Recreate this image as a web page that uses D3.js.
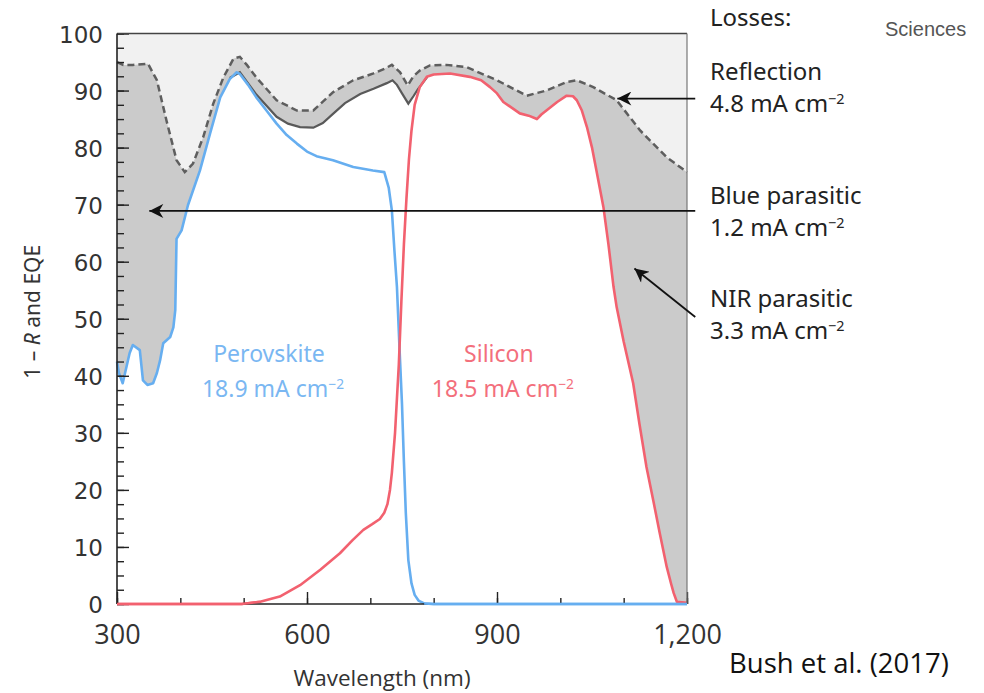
<!DOCTYPE html>
<html>
<head>
<meta charset="utf-8">
<script src="https://cdn.jsdelivr.net/npm/d3@7"></script>
<style>
    body { margin: 0; background: #fff; }
    svg { display: block; }
</style>
</head>
<body>
<svg id="eqe-viz"></svg>
<script>
// 1 - R (dashed) : wavelength (nm) / percent
var reflWavelength = [300, 310, 325, 349, 363, 378, 394, 407, 420, 436, 452, 468, 484, 494, 505, 520, 552, 584, 610, 641, 673, 705, 722, 734, 747, 759, 768, 778, 794, 820, 852, 900, 947, 978, 1010, 1026, 1052, 1089, 1126, 1168, 1200]
var reflValue      = [95, 94.5, 94.5, 94.7, 91.8, 84.8, 77.8, 75.7, 77.2, 81.8, 87.7, 92.3, 95.6, 95.9, 94.5, 92.3, 88.3, 86.5, 86.5, 89.7, 91.8, 93, 93.8, 94.5, 93.2, 90.9, 92.5, 93.5, 94.4, 94.5, 94.1, 91.8, 89.1, 90, 91.5, 91.8, 90.6, 88.3, 83, 78.3, 75.7]

// perovskite EQE
var perovWavelength = [300, 303, 309, 315, 320, 325, 336, 341, 348, 357, 363, 368, 373, 384, 389, 392, 394, 402, 412, 431, 447, 463, 478, 489, 494, 507, 520, 536, 552, 568, 584, 600, 615, 641, 673, 704, 722, 729, 734, 738, 742, 746, 750, 753, 756, 760, 765, 770, 776, 785, 800, 1200]
var perovEqe        = [42.5, 40.5, 38.7, 41.6, 44, 45.4, 44.5, 39.2, 38.4, 38.7, 40.5, 42.7, 45.7, 46.8, 48.5, 51.5, 64, 65.5, 69.9, 76, 82.5, 88.8, 92, 93.2, 92.9, 91, 88.8, 86.5, 84.2, 82.2, 80.7, 79.3, 78.5, 77.8, 76.6, 76, 75.7, 73, 69, 62, 55.6, 45, 35, 25, 16, 7.7, 3.6, 1.6, 0.6, 0.1, 0, 0]

// silicon EQE
var siWavelength = [300, 497, 526, 557, 589, 621, 652, 672, 689, 703, 715, 722, 727, 731, 734, 739, 745, 749, 753, 757, 761, 765, 770, 778, 789, 800, 826, 857, 875, 889, 900, 910, 936, 950, 963, 970, 978, 995, 1010, 1020, 1026, 1034, 1042, 1050, 1057, 1068, 1076, 1084, 1089, 1100, 1115, 1125, 1136, 1147, 1157, 1168, 1175, 1179, 1184, 1200]
var siEqe        = [0, 0, 0.4, 1.3, 3.3, 6, 8.9, 11.2, 13, 14, 14.9, 16, 17.5, 20, 23, 30, 42, 53, 63, 71, 78, 83, 87.5, 90.6, 92.4, 92.8, 93, 92.4, 91.8, 90.6, 89.5, 88, 86, 85.6, 85, 85.8, 86.5, 88, 89.1, 89, 88.3, 86.5, 83.6, 80, 76, 69.6, 63, 55.6, 52, 46, 38.7, 31.5, 24, 18, 12.4, 6.5, 3.5, 1.9, 0.4, 0.2]

// summed EQE (solid grey), only where both cells contribute
var totalWavelength = [478, 494, 520, 552, 570, 589, 610, 625, 641, 660, 684, 705, 726, 735, 742, 750, 760, 768, 775, 790]
var totalEqe        = [92.2, 93.2, 89.3, 85.4, 84.2, 83.6, 83.5, 84.3, 85.9, 87.8, 89.4, 90.3, 91.3, 91.8, 91, 89.5, 87.7, 89, 90.2, 92.4]

var xTickLabels = [300, 600, 900, 1200]
var yTickLabels = [0, 10, 20, 30, 40, 50, 60, 70, 80, 90, 100]

var lossNames  = ["Reflection", "Blue parasitic", "NIR parasitic"]
var lossValues = ["4.8", "1.2", "3.3"]

var zip = (xs, ys) => xs.map((x, i) => ({wl: x, v: ys[i]}))
var reflData = zip(reflWavelength, reflValue)
var perovData = zip(perovWavelength, perovEqe)
var siData = zip(siWavelength, siEqe)
var totalData = zip(totalWavelength, totalEqe)

var dimensions = {
    width: 984,
    height: 693,
    margin: { top: 33.5, bottom: 89, left: 117, right: 297 }
}
var plotBottom = dimensions.height - dimensions.margin.bottom
var plotRight = dimensions.width - dimensions.margin.right

var svg = d3.select("#eqe-viz")
            .attr("width", dimensions.width)
            .attr("height", dimensions.height)

var xScale = d3.scaleLinear()
               .domain([300, 1200])
               .range([dimensions.margin.left, plotRight])
var yScale = d3.scaleLinear()
               .domain([0, 100])
               .range([plotBottom, dimensions.margin.top])

var areaGen = d3.area()
                .x(d => xScale(d.wl))
                .y0(yScale(0))
                .y1(d => yScale(d.v))
var lineGen = d3.line()
                .x(d => xScale(d.wl))
                .y(d => yScale(d.v))

var blue = "#66aef0"
var red = "#f2616f"

// reflection region (above 1-R)
svg.append("rect")
   .attr("x", xScale(300))
   .attr("y", yScale(100))
   .attr("width", xScale(1200) - xScale(300))
   .attr("height", yScale(0) - yScale(100))
   .attr("fill", "#f1f1f1")

// parasitic region (below 1-R)
svg.append("path").datum(reflData).attr("d", areaGen).attr("fill", "#cbcbcb")

// collected region (white under EQE curves)
svg.append("path").datum(perovData).attr("d", areaGen).attr("fill", "#fff")
svg.append("path").datum(siData).attr("d", areaGen).attr("fill", "#fff")
svg.append("path").datum(totalData).attr("d", areaGen).attr("fill", "#fff")

svg.append("path").datum(reflData).attr("d", lineGen)
   .attr("fill", "none").attr("stroke", "#5e5e5e")
   .attr("stroke-width", 2.5).attr("stroke-dasharray", "7,4")
svg.append("path").datum(totalData).attr("d", lineGen)
   .attr("fill", "none").attr("stroke", "#595959").attr("stroke-width", 2.2)
svg.append("path").datum(perovData).attr("d", lineGen)
   .attr("fill", "none").attr("stroke", blue).attr("stroke-width", 2.6)
   .attr("stroke-linejoin", "round")
svg.append("path").datum(siData).attr("d", lineGen)
   .attr("fill", "none").attr("stroke", red).attr("stroke-width", 2.6)
   .attr("stroke-linejoin", "round")

// axes
var yMinor = d3.axisLeft(yScale).tickValues(d3.range(0, 100.1, 2.5)).tickSize(-7).tickFormat("")
var yMajor = d3.axisLeft(yScale).tickValues(yTickLabels).tickSize(-12).tickPadding(14)
var xMinor = d3.axisBottom(xScale).tickValues(d3.range(300, 1201, 100)).tickSize(-6).tickFormat("")
var xMajor = d3.axisBottom(xScale).tickValues(xTickLabels).tickSize(-12).tickPadding(21).tickFormat(d3.format(","))

var yMinorAxis = svg.append("g").attr("transform", `translate(${dimensions.margin.left},0)`).call(yMinor)
var yAxis = svg.append("g").attr("transform", `translate(${dimensions.margin.left},0)`).call(yMajor)
var xMinorAxis = svg.append("g").attr("transform", `translate(0,${plotBottom})`).call(xMinor)
var xAxis = svg.append("g").attr("transform", `translate(0,${plotBottom})`).call(xMajor)

svg.selectAll(".domain").remove()
svg.selectAll(".tick line").attr("stroke", "#222").attr("stroke-width", 1.4)
yAxis.selectAll("text")
     .attr("font-family", "DejaVu Sans").attr("font-size", 23).attr("fill", "#333")
     .attr("dy", "0.37em")
xAxis.selectAll("text")
     .attr("font-family", "Open Sans").attr("font-size", 27).attr("fill", "#333")

// frame
svg.append("line").attr("x1", xScale(300)).attr("x2", xScale(1200)).attr("y1", yScale(100)).attr("y2", yScale(100))
   .attr("stroke", "#444").attr("stroke-width", 1.6)
svg.append("line").attr("x1", xScale(300)).attr("x2", xScale(300)).attr("y1", yScale(100)).attr("y2", yScale(0))
   .attr("stroke", "#222").attr("stroke-width", 1.6)
svg.append("line").attr("x1", xScale(1200)).attr("x2", xScale(1200)).attr("y1", yScale(100)).attr("y2", yScale(0))
   .attr("stroke", "#777").attr("stroke-width", 1.2)
svg.append("line").attr("x1", xScale(300)).attr("x2", xScale(1200)).attr("y1", yScale(0)).attr("y2", yScale(0))
   .attr("stroke", "#222").attr("stroke-width", 1.4)
// zero-level curves sit on top of the axis line
svg.append("path").datum(siData.filter(d => d.wl <= 526)).attr("d", lineGen)
   .attr("fill", "none").attr("stroke", red).attr("stroke-width", 2.4)
svg.append("path").datum(perovData.filter(d => d.wl >= 785)).attr("d", lineGen)
   .attr("fill", "none").attr("stroke", blue).attr("stroke-width", 2.4)

// axis titles
svg.append("text")
   .attr("text-anchor", "middle")
   .attr("font-family", "Noto Sans").attr("font-size", 21).attr("fill", "#333")
   .attr("transform", `rotate(-90, 40, ${yScale(50) - 7})`)
   .attr("x", 40).attr("y", yScale(50) - 7)
   .call(t => {
       t.append("tspan").text("1 – ")
       t.append("tspan").attr("font-style", "italic").text("R")
       t.append("tspan").text(" and EQE")
   })
svg.append("text")
   .attr("text-anchor", "middle")
   .attr("font-family", "Open Sans").attr("font-size", 22.5).attr("fill", "#333")
   .attr("x", 382).attr("y", 686)
   .text("Wavelength (nm)")

svg.append("text")
   .attr("font-family", "Open Sans").attr("font-size", 27.5).attr("fill", "#111")
   .attr("x", 729).attr("y", 673)
   .text("Bush et al. (2017)")
svg.append("text")
   .attr("font-family", "Liberation Sans").attr("font-size", 20).attr("fill", "#555")
   .attr("x", 885).attr("y", 36)
   .text("Sciences")

var addUnit = (sel, number) => {
    sel.append("tspan").text(number + " mA cm")
    sel.append("tspan").attr("dy", -8).attr("font-size", "0.6em").text("−2")
}

// curve labels
var curveLabels = [
    {name: "Perovskite", value: "18.9", wl: 540, color: "#7ab7f2"},
    {name: "Silicon", value: "18.5", wl: 903, color: "#f36f7c"}
]
curveLabels.forEach(c => {
    svg.append("text")
       .attr("text-anchor", "middle")
       .attr("font-family", "Noto Sans").attr("font-size", 23).attr("fill", c.color)
       .attr("x", xScale(c.wl)).attr("y", 362)
       .text(c.name)
    svg.append("text")
       .attr("text-anchor", "middle")
       .attr("font-family", "Noto Sans").attr("font-size", 23).attr("fill", c.color)
       .attr("x", xScale(c.wl) + 4).attr("y", 397)
       .call(t => addUnit(t, c.value))
})

// losses legend
var legendX = 710
svg.append("text")
   .attr("font-family", "Noto Sans").attr("font-size", 24).attr("fill", "#222")
   .attr("x", legendX).attr("y", 26)
   .text("Losses:")
var legendBaselines = [80, 204, 307]
lossNames.forEach((name, i) => {
    svg.append("text")
       .attr("font-family", "Noto Sans").attr("font-size", 24).attr("fill", "#222")
       .attr("x", legendX).attr("y", legendBaselines[i])
       .text(name)
    svg.append("text")
       .attr("font-family", "Noto Sans").attr("font-size", 24).attr("fill", "#222")
       .attr("x", legendX).attr("y", legendBaselines[i] + 32)
       .call(t => addUnit(t, lossValues[i]))
})

// arrows pointing into the loss regions
svg.append("defs").append("marker")
   .attr("id", "head")
   .attr("viewBox", "0 0 10 10")
   .attr("refX", 10).attr("refY", 5)
   .attr("markerWidth", 16).attr("markerHeight", 14)
   .attr("markerUnits", "userSpaceOnUse")
   .attr("orient", "auto")
   .append("path")
   .attr("d", "M0,0 L10,5 L0,10 L3,5 Z")
   .attr("fill", "#111")

var arrows = [
    {from: [1213, 88.6], to: [1090, 88.6]},
    {from: [1213, 68.9], to: [351, 68.9]},
    {from: [1213, 50.3], to: [1117, 58.8]}
]
arrows.forEach(a => {
    svg.append("line")
       .attr("x1", xScale(a.from[0])).attr("y1", yScale(a.from[1]))
       .attr("x2", xScale(a.to[0])).attr("y2", yScale(a.to[1]))
       .attr("stroke", "#111").attr("stroke-width", 1.8)
       .attr("marker-end", "url(#head)")
})
</script>
</body>
</html>
